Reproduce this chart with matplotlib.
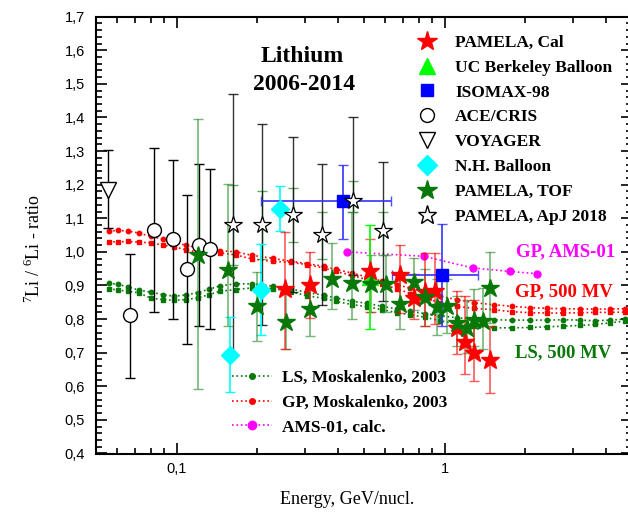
import matplotlib
matplotlib.use("Agg")
import matplotlib.pyplot as plt
from matplotlib.lines import Line2D
from matplotlib.ticker import FixedLocator, FuncFormatter, MultipleLocator, NullFormatter

plt.rcParams['font.family'] = 'Liberation Serif'
plt.rcParams['mathtext.fontset'] = 'custom'
plt.rcParams['mathtext.rm'] = 'Liberation Serif'

# --- measurements: energy (GeV/nucl), 7Li/6Li ratio, error bar ends ---
pam_cal_e = [0.254, 0.314, 0.526, 0.684, 0.767, 0.847, 0.923, 1.112, 1.194, 1.282, 1.47]
pam_cal_r = [0.890, 0.901, 0.944, 0.930, 0.863, 0.880, 0.883, 0.774, 0.731, 0.698, 0.678]
pam_cal_lo = [0.710, 0.804, 0.822, 0.819, 0.800, 0.779, 0.784, 0.695, 0.638, 0.615, 0.579]
pam_cal_hi = [1.059, 1.000, 1.039, 1.020, 0.935, 0.997, 0.997, 0.883, 0.868, 0.858, 0.779]

tof_e = [0.120, 0.156, 0.200, 0.255, 0.314, 0.381, 0.452, 0.530, 0.605, 0.680,
         0.767, 0.847, 0.937, 1.020, 1.112, 1.212, 1.290, 1.390, 1.470]
tof_r = [0.992, 0.947, 0.838, 0.791, 0.830, 0.920, 0.908, 0.903, 0.903, 0.846,
         0.910, 0.866, 0.836, 0.840, 0.787, 0.774, 0.797, 0.794, 0.893]
tof_lo = [0.593, 0.779, 0.734, 0.710, 0.751, 0.830, 0.800, 0.820, 0.820, 0.770,
          0.828, 0.780, 0.754, 0.760, 0.720, 0.700, 0.720, 0.710, 0.789]
tof_hi = [1.395, 1.203, 0.939, 0.894, 0.900, 1.025, 1.120, 0.990, 0.990, 0.930,
          0.982, 0.950, 0.918, 0.920, 0.868, 0.858, 0.890, 0.893, 0.999]

ace_e = [0.0672, 0.0825, 0.0966, 0.1095, 0.1214, 0.1334]
ace_r = [0.811, 1.066, 1.039, 0.949, 1.022, 1.009]
ace_lo = [0.625, 0.822, 0.800, 0.727, 0.779, 0.772]
ace_hi = [0.994, 1.309, 1.274, 1.170, 1.261, 1.246]

voy_e = [0.0553]
voy_r = [1.185]
voy_lo = [1.072]
voy_hi = [1.303]

nh_e = [0.158, 0.206, 0.243]
nh_r = [0.693, 0.888, 1.128]
nh_lo = [0.583, 0.754, 1.063]
nh_hi = [0.807, 1.024, 1.195]

iso_e = [0.417, 0.978]
iso_r = [1.150, 0.932]
iso_e_lo = [0.206, 0.637]
iso_e_hi = [0.632, 1.331]
iso_lo = [1.039, 0.779]
iso_hi = [1.259, 1.084]

ucb_e = [0.526]
ucb_r = [0.924]
ucb_lo = [0.771]
ucb_hi = [1.079]

apj_e = [0.1616, 0.209, 0.272, 0.350, 0.456, 0.588]
apj_r = [1.081, 1.080, 1.111, 1.051, 1.150, 1.063]
apj_lo = [0.692, 0.782, 0.881, 0.841, 0.932, 0.853]
apj_hi = [1.469, 1.380, 1.342, 1.261, 1.400, 1.269]
apj_sys_lo = [0.960, 0.980, 1.030, 0.980, 1.120, 0.990]
apj_sys_hi = [1.200, 1.180, 1.190, 1.120, 1.210, 1.120]

# --- model curves ---
mod_e = [0.0558, 0.0606, 0.0659, 0.0724, 0.0802, 0.0887, 0.098, 0.1083, 0.1197, 0.1322,
         0.1453, 0.1663, 0.1907, 0.2278, 0.2663, 0.3074, 0.3544, 0.3918, 0.4518, 0.5142,
         0.5845, 0.665, 0.7455, 0.8474, 0.9638, 1.112, 1.282, 1.522, 1.782, 2.085,
         2.405, 2.773, 3.201, 3.64, 4.14, 4.71]
gp_mosk = [1.062, 1.064, 1.062, 1.056, 1.046, 1.038, 1.028, 1.020, 1.012, 1.007,
           1.004, 1.000, 0.990, 0.981, 0.972, 0.965, 0.957, 0.948, 0.937, 0.925,
           0.913, 0.902, 0.892, 0.880, 0.868, 0.858, 0.849, 0.843, 0.838, 0.834,
           0.832, 0.831, 0.830, 0.830, 0.830, 0.831]
gp_500 = [1.030, 1.030, 1.031, 1.029, 1.027, 1.020, 1.015, 1.006, 1.000, 0.999,
          0.997, 0.991, 0.979, 0.972, 0.969, 0.962, 0.952, 0.942, 0.930, 0.917,
          0.904, 0.890, 0.876, 0.862, 0.849, 0.838, 0.832, 0.828, 0.822, 0.819,
          0.818, 0.818, 0.819, 0.820, 0.820, 0.821]
ls_mosk = [0.907, 0.903, 0.896, 0.886, 0.880, 0.873, 0.868, 0.872, 0.879, 0.889,
           0.899, 0.905, 0.905, 0.898, 0.890, 0.879, 0.871, 0.863, 0.853, 0.847,
           0.838, 0.830, 0.823, 0.816, 0.810, 0.804, 0.800, 0.798, 0.797, 0.797,
           0.797, 0.798, 0.797, 0.795, 0.797, 0.800]
ls_500 = [0.891, 0.886, 0.883, 0.878, 0.862, 0.858, 0.856, 0.858, 0.863, 0.873,
          0.883, 0.888, 0.893, 0.891, 0.882, 0.869, 0.862, 0.853, 0.843, 0.837,
          0.828, 0.819, 0.813, 0.805, 0.795, 0.785, 0.779, 0.774, 0.774, 0.775,
          0.777, 0.779, 0.781, 0.784, 0.789, 0.794]
ams_e = [0.433, 0.835, 1.276, 1.746, 2.22]
ams_r = [1.000, 0.987, 0.952, 0.942, 0.935]

RED = '#ff0000'
DKGREEN = '#087808'
BARGREEN = '#2f8f2f'


def err(vals, lo, hi):
    return [[v - l for v, l in zip(vals, lo)], [h - v for v, h in zip(vals, hi)]]


fig = plt.figure(figsize=(6.28, 5.14), dpi=100)
ax = fig.add_axes([96 / 628, 1 - 453.5 / 514, 536 / 628, 436.8 / 514])
ax.set_xscale('log')
ax.set_xlim(0.05, 5)
ax.set_ylim(0.4, 1.7)

# model curves
ax.plot(mod_e, gp_mosk, ls=':', color=RED, marker='o', ms=3.2, lw=1.2, zorder=2)
ax.plot(mod_e, gp_500, ls=':', color=RED, marker='s', ms=3.0, lw=1.2, zorder=2)
ax.plot(mod_e, ls_mosk, ls=':', color=DKGREEN, marker='o', ms=3.2, lw=1.2, zorder=2)
ax.plot(mod_e, ls_500, ls=':', color=DKGREEN, marker='s', ms=3.0, lw=1.2, zorder=2)
ax.plot(ams_e, ams_r, ls=':', color='#ff00ff', marker='o', ms=5, lw=1.2, zorder=2)

cap = 3.5
# error bars
ax.errorbar(apj_e, apj_r, yerr=err(apj_r, apj_sys_lo, apj_sys_hi), fmt='none',
            ecolor=BARGREEN, elinewidth=1.0, capsize=cap, alpha=0.75, zorder=3)
ax.errorbar(apj_e, apj_r, yerr=err(apj_r, apj_lo, apj_hi), fmt='none',
            ecolor='black', elinewidth=1.0, capsize=cap, alpha=0.8, zorder=3)
ax.errorbar(ace_e, ace_r, yerr=err(ace_r, ace_lo, ace_hi), fmt='none',
            ecolor='black', elinewidth=1.0, capsize=cap, zorder=3)
ax.errorbar(voy_e, voy_r, yerr=err(voy_r, voy_lo, voy_hi), fmt='none',
            ecolor='black', elinewidth=1.0, capsize=cap, zorder=3)
ax.errorbar(nh_e, nh_r, yerr=err(nh_r, nh_lo, nh_hi), fmt='none',
            ecolor='#00ffff', elinewidth=1.2, capsize=cap, zorder=3)
ax.errorbar(tof_e, tof_r, yerr=err(tof_r, tof_lo, tof_hi), fmt='none',
            ecolor=BARGREEN, elinewidth=1.2, capsize=cap, alpha=0.65, zorder=3)
ax.errorbar(pam_cal_e, pam_cal_r, yerr=err(pam_cal_r, pam_cal_lo, pam_cal_hi), fmt='none',
            ecolor=RED, elinewidth=1.2, capsize=cap, alpha=0.65, zorder=3)
ax.errorbar(ucb_e, ucb_r, yerr=err(ucb_r, ucb_lo, ucb_hi), fmt='none',
            ecolor='#00ff00', elinewidth=1.2, capsize=cap, zorder=3)
ax.errorbar(iso_e, iso_r, yerr=err(iso_r, iso_lo, iso_hi),
            xerr=err(iso_e, iso_e_lo, iso_e_hi), fmt='none',
            ecolor='#3030ff', elinewidth=1.4, capsize=cap, alpha=0.85, zorder=3)

# markers
ax.plot(ace_e, ace_r, 'o', ms=10, mfc='white', mec='black', mew=1.0, zorder=4)
ax.plot(voy_e, voy_r, 'v', ms=11, mfc='white', mec='black', mew=1.0, zorder=4)
ax.plot(nh_e, nh_r, 'D', ms=9, color='#00ffff', zorder=4)
ax.plot(iso_e, iso_r, 's', ms=8, color='#0000ff', zorder=4)
ax.plot(ucb_e, ucb_r, '^', ms=11, color='#00ff00', zorder=4)
ax.plot(pam_cal_e, pam_cal_r, '*', ms=14, color=RED, zorder=5)
ax.plot(tof_e, tof_r, '*', ms=13.5, color=DKGREEN, zorder=5)
ax.plot(apj_e, apj_r, '*', ms=13, mfc='white', mec='black', mew=0.9, zorder=6)

# axes and ticks
ax.yaxis.set_major_locator(MultipleLocator(0.1))
ax.yaxis.set_minor_locator(MultipleLocator(0.02))
ax.yaxis.set_major_formatter(FuncFormatter(lambda v, p: f'{v:.1f}'.replace('.', ',')))
ax.xaxis.set_major_locator(FixedLocator([0.1, 1]))
ax.xaxis.set_minor_locator(FixedLocator([0.05, 0.06, 0.07, 0.08, 0.09, 0.2, 0.3, 0.4, 0.5,
                                         0.6, 0.7, 0.8, 0.9, 2, 3, 4]))
ax.xaxis.set_major_formatter(FuncFormatter(lambda v, p: f'{v:g}'.replace('.', ',')))
ax.xaxis.set_minor_formatter(NullFormatter())
ax.tick_params(which='both', direction='in', top=True, right=True, width=1.2,
               labelsize=10.5, labelfontfamily='Liberation Sans')
ax.tick_params(which='major', length=8)
ax.tick_params(which='minor', length=4)
ax.tick_params(axis='y', which='major', pad=8)
ax.tick_params(axis='x', which='major', pad=6)
for s in ax.spines.values():
    s.set_linewidth(1.5)

ax.set_xlabel('Energy, GeV/nucl.', fontsize=13)
ax.xaxis.set_label_coords(0.468, -0.085)
ax.set_ylabel(r'$^{7}$Li / $^{6}$Li - ratio', fontsize=13)
ax.yaxis.set_label_coords(-0.097, 0.47)

fig.text(302 / 628, 1 - 57 / 514, 'Lithium', fontsize=17, fontweight='bold',
         ha='center', va='center')
fig.text(304 / 628, 1 - 85 / 514, '2006-2014', fontsize=17, fontweight='bold',
         ha='center', va='center')

fig.text(516 / 628, 1 - 252 / 514, 'GP, AMS-01', fontsize=13.5, fontweight='bold',
         color='#ff00ff', va='center')
fig.text(515 / 628, 1 - 292 / 514, 'GP, 500 MV', fontsize=13.5, fontweight='bold',
         color=RED, va='center')
fig.text(515 / 628, 1 - 353 / 514, 'LS, 500 MV', fontsize=13.5, fontweight='bold',
         color=DKGREEN, va='center')

# legends
h1 = [
    Line2D([], [], ls='none', marker='*', ms=15, color=RED),
    Line2D([], [], ls='none', marker='^', ms=12, color='#00ff00'),
    Line2D([], [], ls='none', marker='s', ms=9, color='#0000ff'),
    Line2D([], [], ls='none', marker='o', ms=10, mfc='white', mec='black'),
    Line2D([], [], ls='none', marker='v', ms=11, mfc='white', mec='black'),
    Line2D([], [], ls='none', marker='D', ms=10, color='#00ffff'),
    Line2D([], [], ls='none', marker='*', ms=15, color=DKGREEN),
    Line2D([], [], ls='none', marker='*', ms=14, mfc='white', mec='black'),
]
l1 = ['PAMELA, Cal', 'UC Berkeley Balloon', 'ISOMAX-98', 'ACE/CRIS', 'VOYAGER',
      'N.H. Balloon', 'PAMELA, TOF', 'PAMELA, ApJ 2018']
leg1 = ax.legend(h1, l1, loc='upper left', bbox_to_anchor=(410 / 628, 1 - 26 / 514),
                 bbox_transform=fig.transFigure, frameon=False, borderpad=0,
                 handlelength=1.0, handletextpad=1.1, labelspacing=0.5,
                 prop={'family': 'Liberation Serif', 'weight': 'bold', 'size': 12.5})
ax.add_artist(leg1)

h2 = [
    Line2D([], [], ls=':', lw=1.2, marker='o', ms=4, color=DKGREEN),
    Line2D([], [], ls=':', lw=1.2, marker='o', ms=4, color=RED),
    Line2D([], [], ls=':', lw=1.2, marker='o', ms=6, color='#ff00ff'),
]
l2 = ['LS, Moskalenko, 2003', 'GP, Moskalenko, 2003', 'AMS-01, calc.']
ax.legend(h2, l2, loc='upper left', bbox_to_anchor=(223 / 628, 1 - 361 / 514),
          bbox_transform=fig.transFigure, frameon=False, borderpad=0, numpoints=1,
          handlelength=2.3, handletextpad=0.6, labelspacing=0.5,
          prop={'family': 'Liberation Serif', 'weight': 'bold', 'size': 12.5})

fig.savefig('out.png', dpi=100)
